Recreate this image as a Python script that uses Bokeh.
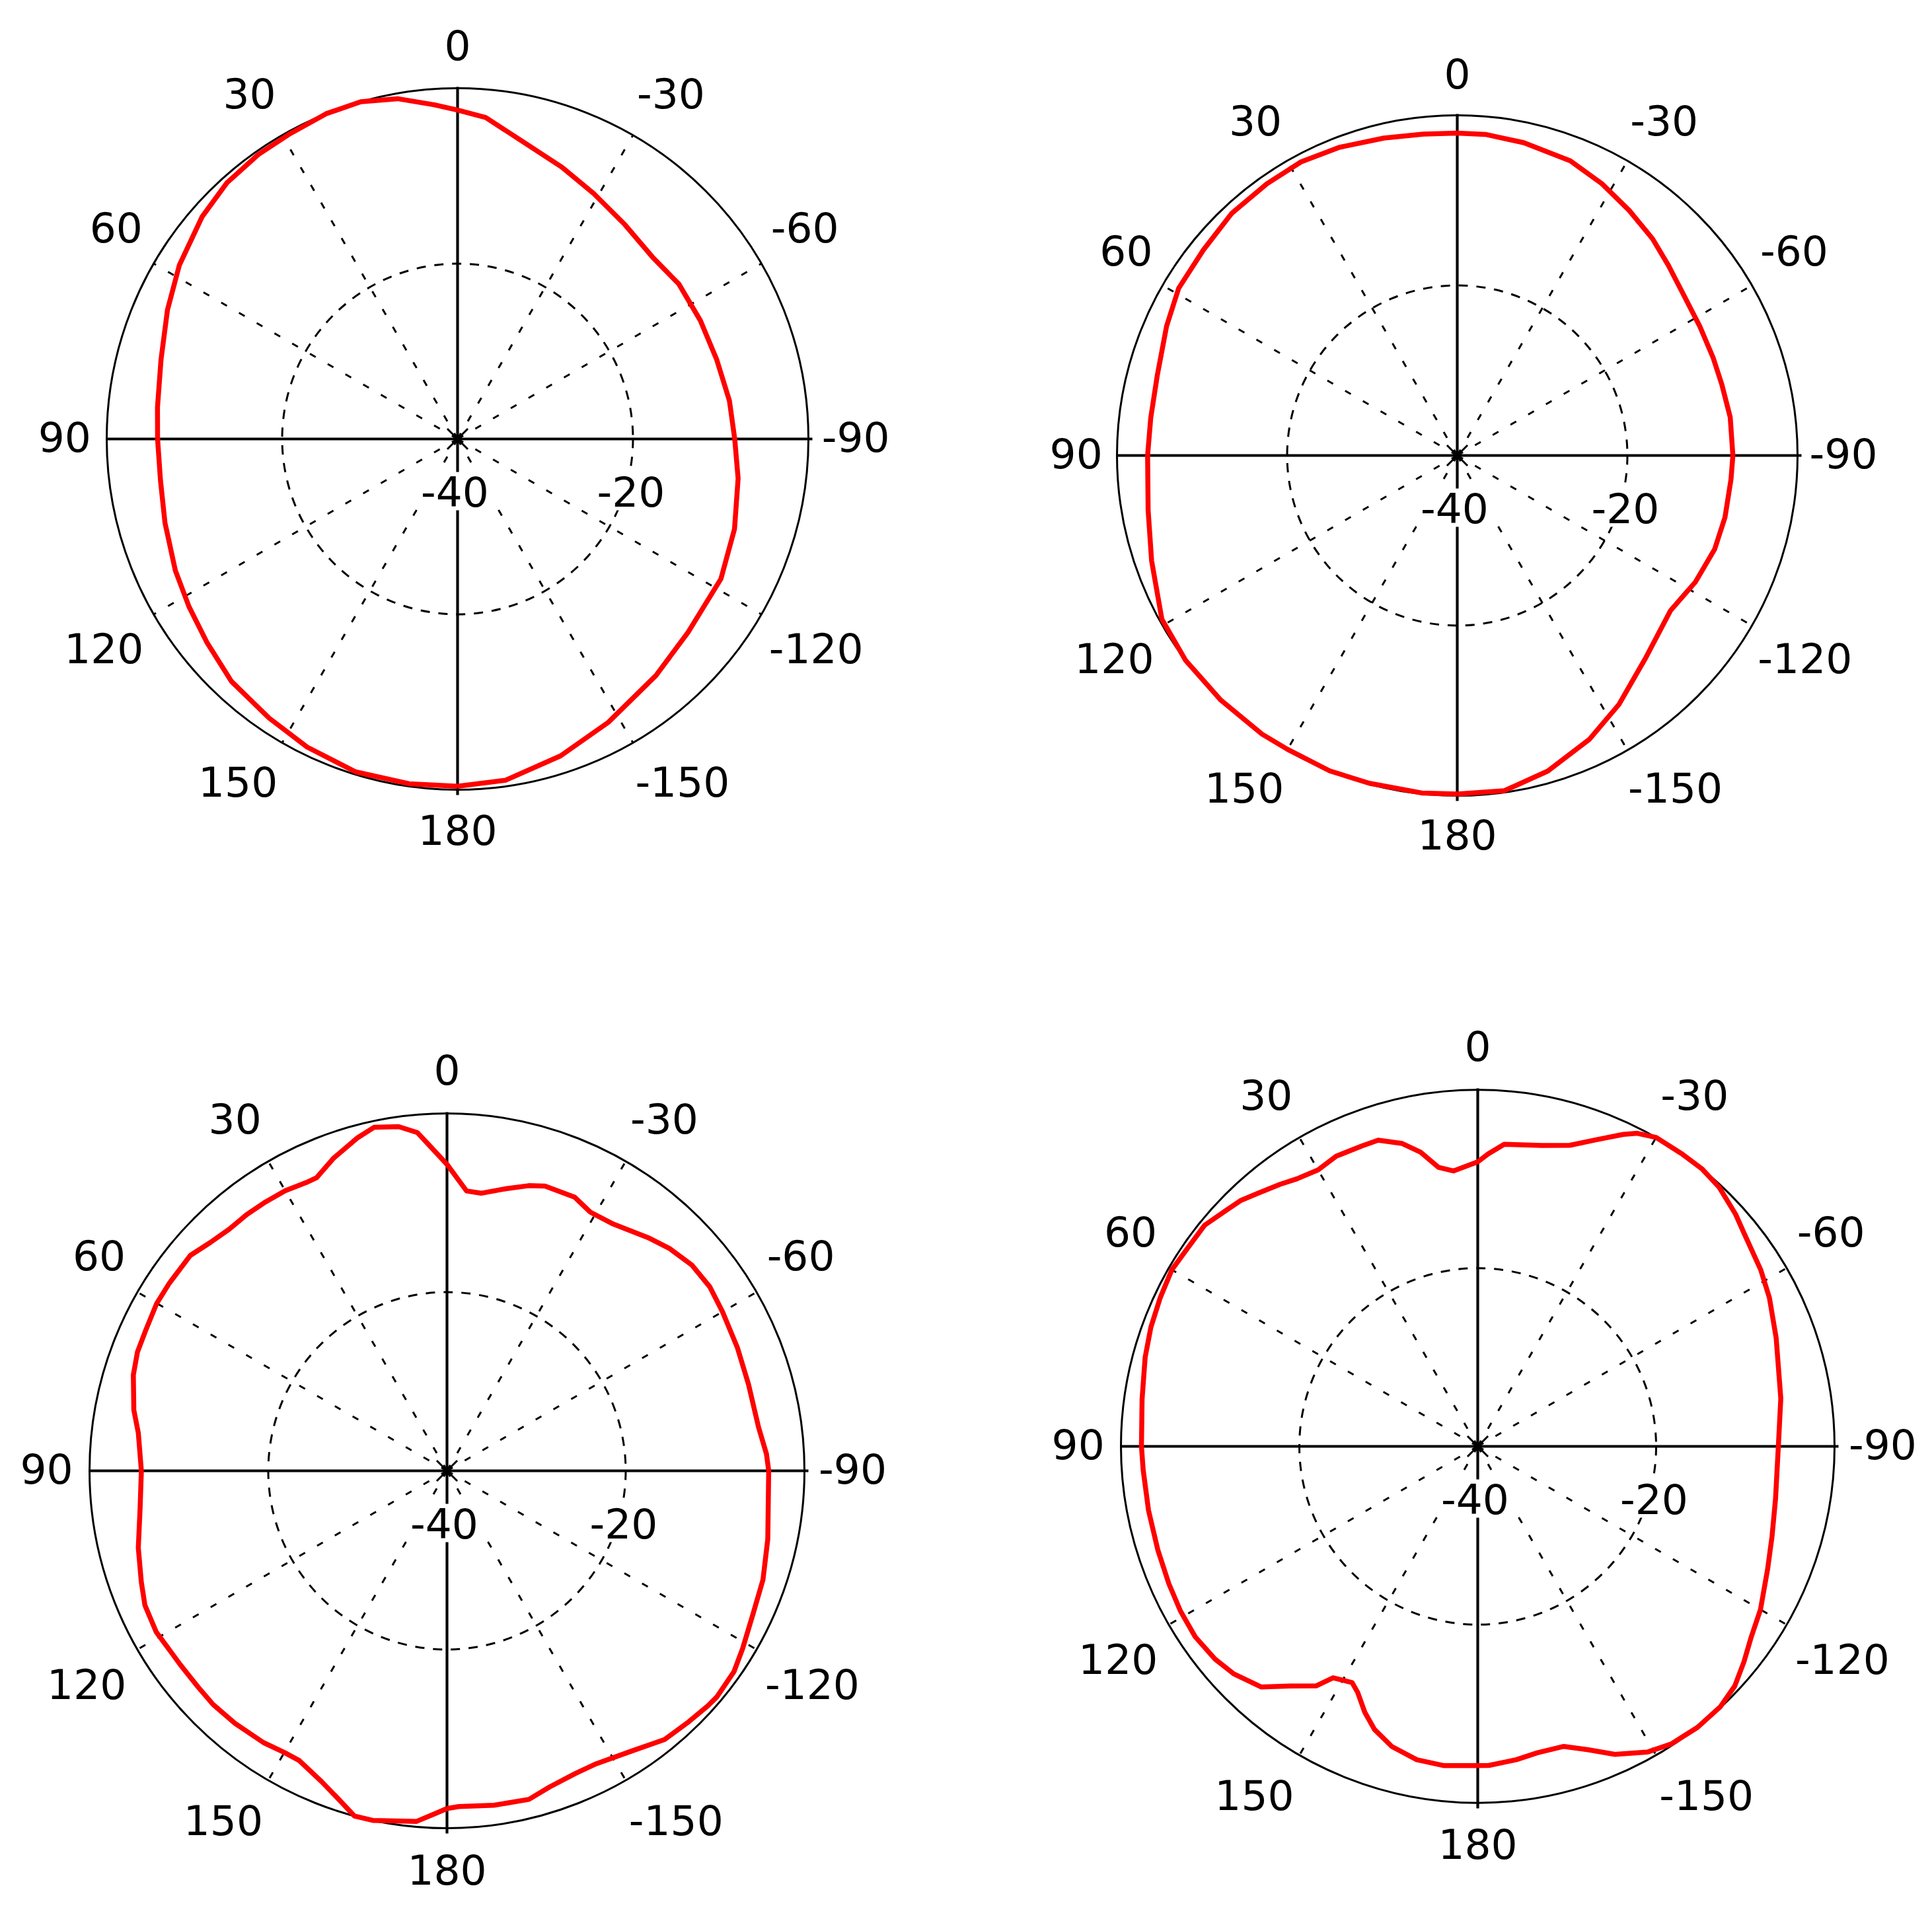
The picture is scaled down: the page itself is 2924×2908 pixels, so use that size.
import numpy as np
from bokeh.plotting import figure
from bokeh.models import Range1d
from bokeh.core.properties import value
from bokeh.embed import file_html
from bokeh.resources import INLINE

# ---------------- data (angle in degrees, gain in dB) ----------------
p1_angle = [-180, -172, -162, -152, -140, -130, -118, -108, -98, -90, -82, -73, -64, -55, -47,
            -38, -29, -21, -12, -5, 0, 4, 10, 16, 22, 29, 35, 42, 49, 58, 66, 75, 84, 90, 98,
            106, 115, 122, 129, 137, 146, 154, 163, 172]
p1_db = [-0.4, -0.7, -2.0, -3.4, -4.8, -5.7, -6.0, -6.8, -7.7, -8.4, -8.7, -9.1, -9.2, -9.2, -9.6,
         -9.0, -8.0, -6.8, -5.2, -3.2, -2.5, -1.8, -0.6, 0.0, 0.0, -0.3, -0.4, -0.7, -1.4, -2.6,
         -3.8, -5.0, -5.6, -5.8, -5.8, -5.3, -4.5, -3.9, -3.2, -2.2, -1.6, -0.9, -0.3, -0.3]

p2_angle = [-180, -172, -164, -155, -147, -137, -126, -118, -110, -103, -95, -90, -82, -75, -69,
            -62, -55, -48, -42, -35, -28, -21, -12, -5, 0, 6, 13, 21, 28, 35, 43, 51, 59, 66, 75,
            83, 90, 100, 109, 119, 127, 136, 145, 150, 158, 165, 174]
p2_db = [-0.2, -0.2, -1.4, -3.2, -5.1, -7.5, -9.0, -8.3, -7.8, -7.7, -7.7, -7.6, -7.6, -7.8, -7.8,
         -7.7, -7.4, -6.6, -5.7, -4.8, -3.8, -2.9, -2.4, -2.1, -2.1, -2.0, -1.7, -1.2, -0.9, -1.0,
         -1.1, -1.6, -1.8, -2.6, -3.5, -3.7, -3.6, -3.1, -2.0, -0.3, 0.0, 0.0, 0.0, -0.1, 0.0,
         -0.1, -0.1]

p3_angle = [-180, -178, -172, -166, -162, -157, -153, -147, -141, -136, -132, -130, -125, -121,
            -115, -109, -102, -90, -87, -82, -74, -67, -60, -55, -50, -45, -41, -34, -29, -25,
            -19, -16, -12, -7, -4, 0, 3, 5, 8, 12, 15, 20, 24, 26, 30, 34, 38, 42, 46, 50, 56,
            60, 65, 69, 73, 79, 83, 90, 97, 104, 110, 114, 119, 122, 126, 131, 135, 140, 146,
            150, 153, 158, 162, 165, 168, 175, 178]
p3_db = [-2.2, -2.4, -2.2, -2.1, -2.8, -3.2, -3.2, -2.5, -1.3, -1.0, -0.7, -0.6, -0.8, -1.4,
         -2.2, -2.6, -3.3, -4.0, -4.2, -4.8, -4.9, -4.7, -4.4, -4.1, -4.2, -4.8, -5.5, -6.7,
         -6.9, -6.2, -6.3, -6.8, -7.7, -8.7, -8.6, -5.7, -3.6, -2.0, -1.1, -0.7, -1.4, -2.8,
         -4.1, -4.1, -3.8, -3.7, -3.6, -3.6, -3.2, -2.5, -2.5, -2.5, -2.8, -2.9, -3.3, -4.3,
         -5.2, -5.8, -5.4, -4.4, -3.6, -3.0, -2.8, -3.0, -3.1, -3.1, -3.0, -3.1, -3.3, -3.6,
         -3.6, -2.5, -1.2, 0.0, 0.0, -0.6, -1.6]

p4_angle = [-180, -178, -173, -169, -164, -160, -156, -151, -147, -142, -137, -133, -129, -125,
            -120, -113, -107, -100, -90, -81, -70, -63, -58, -51, -48, -43, -39, -35, -30, -27,
            -25, -21, -17, -12, -5, -2, 0, 5, 8, 11, 14, 18, 21, 26, 30, 34, 37, 41, 44, 47, 51,
            56, 60, 65, 70, 75, 82, 90, 94, 101, 108, 114, 119, 124, 129, 133, 138, 142, 146,
            148, 152, 154, 157, 160, 164, 169, 174]
p4_db = [-4.2, -4.2, -4.6, -5.0, -5.0, -3.8, -2.2, -0.8, -0.2, 0.0, -0.1, -0.6, -1.6, -2.6,
         -3.4, -4.7, -5.5, -6.1, -6.3, -5.6, -4.4, -3.3, -2.6, -1.7, -1.1, -0.3, 0.0, 0.0, 0.0,
         -0.6, -1.4, -3.2, -4.7, -5.5, -6.0, -7.2, -8.1, -9.0, -8.4, -6.4, -5.0, -3.9, -3.9,
         -3.8, -4.2, -3.8, -3.2, -2.4, -1.7, -1.3, -0.6, -0.6, -0.4, -0.7, -1.0, -1.4, -2.0,
         -2.3, -2.4, -2.4, -2.3, -2.1, -1.9, -1.8, -2.1, -2.6, -3.7, -5.9, -7.6, -9.4, -10.0,
         -9.3, -7.6, -6.2, -5.0, -4.2, -4.0]

angle_ticks = [0, 30, 60, 90, 120, 150, 180, -150, -120, -90, -60, -30]
angle_labels = ["0", "30", "60", "90", "120", "150", "180", "-150", "-120", "-90", "-60", "-30"]
radial_ticks = [-40, -20]
radial_labels = ["-40", "-20"]
DB_MIN, DB_MAX = -40.0, 0.0

# ---------------- layout (page pixels) ----------------
W, H = 2908, 2892
panels = [
    dict(cx=692, cy=664, R=531, angle=p1_angle, db=p1_db),
    dict(cx=2205, cy=689, R=515, angle=p2_angle, db=p2_db),
    dict(cx=676, cy=2226, R=541, angle=p3_angle, db=p3_db),
    dict(cx=2236, cy=2189, R=540, angle=p4_angle, db=p4_db),
]
# label centre offsets, as fractions of the outer radius (screen x right, y down)
label_off = {0: (0.0, -1.115), 30: (-0.593, -0.978), 60: (-0.973, -0.596), 90: (-1.12, 0.0),
             120: (-1.008, 0.603), 150: (-0.626, 0.984), 180: (0.0, 1.122),
             -150: (0.641, 0.984), -120: (1.022, 0.603), -90: (1.135, 0.0),
             -60: (0.99, -0.596), -30: (0.608, -0.978)}
LABEL_DY = -4
FONT = value("DejaVu Sans")
FS = "63px"

p = figure(width=W, height=H, x_range=Range1d(0, W), y_range=Range1d(H, 0),
           output_backend="svg", toolbar_location=None, min_border=0)
p.axis.visible = False
p.grid.visible = False
p.outline_line_color = None
p.background_fill_color = "white"
p.border_fill_color = "white"


def polar(cx, cy, R, ang_deg, db):
    a = np.radians(np.asarray(ang_deg, dtype=float))
    rho = (np.clip(np.asarray(db, dtype=float), DB_MIN, DB_MAX) - DB_MIN) / (DB_MAX - DB_MIN)
    return cx - rho * R * np.sin(a), cy - rho * R * np.cos(a)


for pn in panels:
    cx, cy, R = pn["cx"], pn["cy"], pn["R"]
    # dashed radial spokes
    spokes = [a for a in angle_ticks if a % 90 != 0]
    x1, y1 = polar(cx, cy, R, spokes, [DB_MAX] * len(spokes))
    p.segment(x0=[cx] * len(spokes), y0=[cy] * len(spokes), x1=list(x1), y1=list(y1),
              line_color="black", line_width=3, line_dash="10 21")
    # dashed -20 dB ring
    ring_r = (radial_ticks[1] - DB_MIN) / (DB_MAX - DB_MIN) * R
    p.circle(x=[cx], y=[cy], radius=ring_r, fill_color=None, line_color="black",
             line_width=3, line_dash="14 13")
    # solid axes
    p.segment(x0=[cx - R, cx], y0=[cy, cy - R - 2], x1=[cx + R + 6, cx], y1=[cy, cy + R + 8],
              line_color="black", line_width=4.2)
    # outer circle
    p.circle(x=[cx], y=[cy], radius=R, fill_color=None, line_color="black", line_width=3)
    # radial labels with white box
    p.text(x=[cx - 4, cx + ring_r - 3], y=[cy + 79, cy + 79], text=radial_labels,
           text_font=FONT, text_font_size=FS, text_align="center", text_baseline="middle",
           text_color="black", background_fill_color="white", padding=6)
    # angle labels
    ax = [cx + label_off[a][0] * R for a in angle_ticks]
    ay = [cy + label_off[a][1] * R + LABEL_DY for a in angle_ticks]
    p.text(x=ax, y=ay, text=angle_labels, text_font=FONT, text_font_size=FS,
           text_align="center", text_baseline="middle", text_color="black")
    # pattern curve (closed)
    xs, ys = polar(cx, cy, R, pn["angle"] + [pn["angle"][0] + 360], pn["db"] + [pn["db"][0]])
    p.line(x=list(xs), y=list(ys), line_color="#ff0000", line_width=7.5, line_join="round")
    # centre marker
    p.scatter(x=[cx], y=[cy], marker="asterisk", size=44, line_color="black", line_width=3)

open("out.html", "w").write(file_html(p, INLINE))
